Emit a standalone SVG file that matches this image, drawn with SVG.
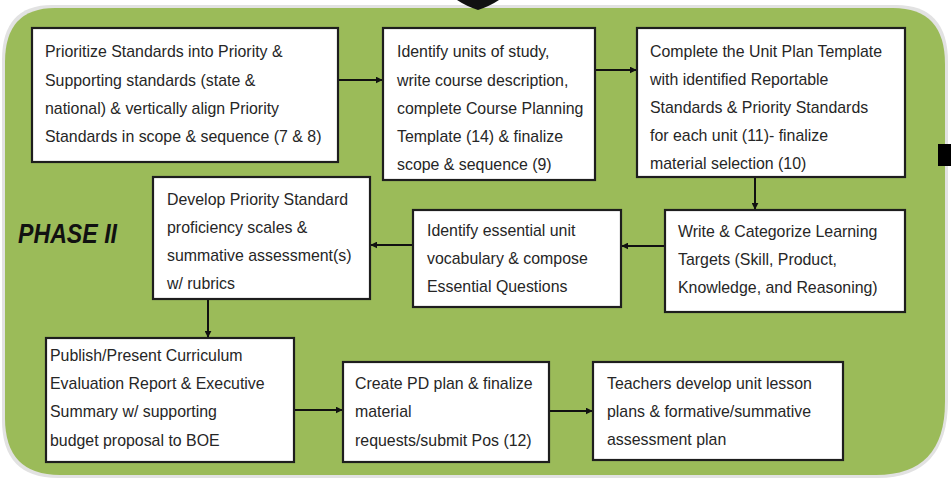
<svg xmlns="http://www.w3.org/2000/svg" width="951" height="486" viewBox="0 0 951 486">
<style>
.box{fill:#ffffff;stroke:#1e1e1e;stroke-width:2.2}
.t{font-family:"Liberation Sans",Arial,sans-serif;font-size:15.9px;fill:#262626}
.c{stroke:#111;stroke-width:2;fill:none;marker-end:url(#ah)}
</style>
<defs>
<marker id="ah" viewBox="0 0 10 10" refX="9" refY="5" markerWidth="7" markerHeight="7" orient="auto" markerUnits="userSpaceOnUse">
<path d="M0,0 L10,5 L0,10 z" fill="#111"/>
</marker>
</defs>
<rect width="951" height="486" fill="#ffffff"/>
<g id="background">
<path d="M52,5 H896 Q948,5 948,62 V400 Q948,478 878,478 H58 Q2,478 2,420 V60 Q2,5 52,5 Z" fill="#e2e2e2"/>
<path d="M55,8 H893 Q945,8 945,64 V402 Q945,475 876,475 H60 Q5,475 5,418 V62 Q5,8 55,8 Z" fill="#9bbb59"/>
<path d="M457,0 H499 Q490,6 478,10 Q466,6 457,0 Z" fill="#111"/>
<rect x="938" y="144" width="13" height="22" fill="#000"/>
</g>
<g id="label-phase">
<text x="18" y="243" font-family="'Liberation Sans',Arial,sans-serif" font-size="27" font-weight="bold" font-style="italic" fill="#111" textLength="99" lengthAdjust="spacingAndGlyphs">PHASE II</text>
</g>
<g id="connectors">
<line class="c" x1="338" y1="80" x2="382" y2="80"/>
<line class="c" x1="595" y1="70" x2="636" y2="70"/>
<line class="c" x1="755" y1="177" x2="755" y2="209"/>
<line class="c" x1="665" y1="246" x2="622" y2="246"/>
<line class="c" x1="413" y1="245" x2="371" y2="245"/>
<line class="c" x1="208" y1="299" x2="208" y2="337"/>
<line class="c" x1="294" y1="410" x2="342" y2="410"/>
<line class="c" x1="549" y1="411" x2="592" y2="411"/>
</g>
<g id="n1">
<rect class="box" x="32" y="28" width="306" height="134"/>
<text class="t" x="45" y="57">Prioritize Standards into Priority &amp;</text>
<text class="t" x="45" y="86">Supporting standards (state &amp;</text>
<text class="t" x="45" y="114">national) &amp; vertically align Priority</text>
<text class="t" x="45" y="142">Standards in scope &amp; sequence (7 &amp; 8)</text>
</g>
<g id="n2">
<rect class="box" x="383" y="28" width="212" height="152"/>
<text class="t" x="397" y="57">Identify units of study,</text>
<text class="t" x="397" y="86">write course description,</text>
<text class="t" x="397" y="114">complete Course Planning</text>
<text class="t" x="397" y="142">Template (14) &amp; finalize</text>
<text class="t" x="397" y="170">scope &amp; sequence (9)</text>
</g>
<g id="n3">
<rect class="box" x="637" y="28" width="268" height="149"/>
<text class="t" x="650" y="57">Complete the Unit Plan Template</text>
<text class="t" x="650" y="85">with identified Reportable</text>
<text class="t" x="650" y="113">Standards &amp; Priority Standards</text>
<text class="t" x="650" y="141">for each unit (11)- finalize</text>
<text class="t" x="650" y="169">material selection (10)</text>
</g>
<g id="n4">
<rect class="box" x="153" y="177" width="217" height="122"/>
<text class="t" x="167" y="205">Develop Priority Standard</text>
<text class="t" x="167" y="233">proficiency scales &amp;</text>
<text class="t" x="167" y="261">summative assessment(s)</text>
<text class="t" x="167" y="289">w/ rubrics</text>
</g>
<g id="n5">
<rect class="box" x="413" y="210" width="208" height="97"/>
<text class="t" x="427" y="236">Identify essential unit</text>
<text class="t" x="427" y="264">vocabulary &amp; compose</text>
<text class="t" x="427" y="292">Essential Questions</text>
</g>
<g id="n6">
<rect class="box" x="665" y="210" width="240" height="102"/>
<text class="t" x="678" y="237">Write &amp; Categorize Learning</text>
<text class="t" x="678" y="265">Targets (Skill, Product,</text>
<text class="t" x="678" y="293">Knowledge, and Reasoning)</text>
</g>
<g id="n7">
<rect class="box" x="46" y="338" width="248" height="124"/>
<text class="t" x="50" y="361">Publish/Present Curriculum</text>
<text class="t" x="50" y="389">Evaluation Report &amp; Executive</text>
<text class="t" x="50" y="417">Summary w/ supporting</text>
<text class="t" x="50" y="446">budget proposal to BOE</text>
</g>
<g id="n8">
<rect class="box" x="343" y="362" width="206" height="100"/>
<text class="t" x="355" y="389">Create PD plan &amp; finalize</text>
<text class="t" x="355" y="417">material</text>
<text class="t" x="355" y="446">requests/submit Pos (12)</text>
</g>
<g id="n9">
<rect class="box" x="593" y="362" width="250" height="98"/>
<text class="t" x="607" y="389">Teachers develop unit lesson</text>
<text class="t" x="607" y="417">plans &amp; formative/summative</text>
<text class="t" x="607" y="445">assessment plan</text>
</g>
</svg>
